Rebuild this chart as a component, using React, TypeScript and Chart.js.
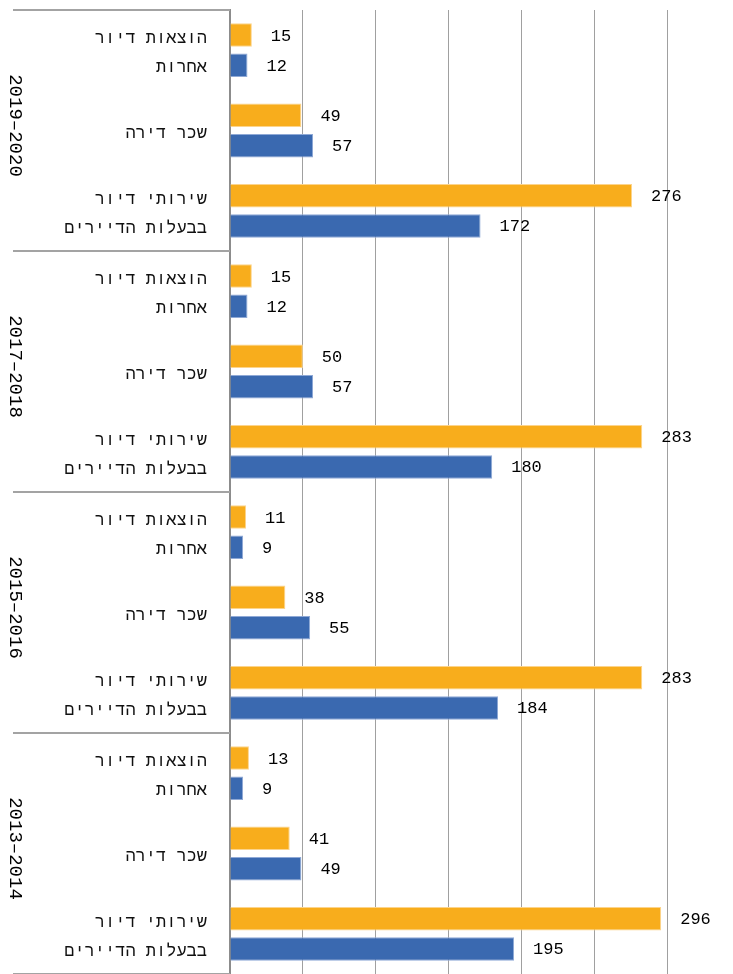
import React, { useEffect, useRef } from "react";
import { Chart, registerables } from "chart.js";

Chart.register(...registerables);

const periods = ["2019–2020", "2017–2018", "2015–2016", "2013–2014"];
const categoryLabels: (string | string[])[] = [
  ["הוצאות דיור", "אחרות"],
  "שכר דירה",
  ["שירותי דיור", "בבעלות הדיירים"],
];
// top-to-bottom, per period: [other housing costs, rent, owner housing services]
const orange2019 = [15, 49, 276];
const orange2017 = [15, 50, 283];
const orange2015 = [11, 38, 283];
const orange2013 = [13, 41, 296];
const blue2019 = [12, 57, 172];
const blue2017 = [12, 57, 180];
const blue2015 = [9, 55, 184];
const blue2013 = [9, 49, 195];
const xMax = 300;
const xStep = 50;

const orangeValues = [...orange2019, ...orange2017, ...orange2015, ...orange2013];
const blueValues = [...blue2019, ...blue2017, ...blue2015, ...blue2013];
const yLabels = periods.flatMap(() => categoryLabels);

const FONT = '"Liberation Mono", monospace';

const valueLabelPlugin = {
  id: "valueLabels",
  afterDatasetsDraw(chart: any) {
    const ctx = chart.ctx;
    ctx.save();
    ctx.font = `17px ${FONT}`;
    ctx.fillStyle = "#000";
    ctx.textAlign = "left";
    ctx.textBaseline = "middle";
    chart.data.datasets.forEach((ds: any, i: number) => {
      const meta = chart.getDatasetMeta(i);
      meta.data.forEach((bar: any, j: number) => {
        ctx.fillText(String(ds.data[j]), bar.x + 19, bar.y + 1);
      });
    });
    ctx.restore();
  },
};

const groupPlugin = {
  id: "groups",
  afterDraw(chart: any) {
    const ctx = chart.ctx;
    const yScale = chart.scales.y;
    const left = chart.chartArea.left;
    const per = categoryLabels.length;
    ctx.save();
    ctx.strokeStyle = "#a3a3a3";
    ctx.lineWidth = 2;
    for (let g = 0; g <= periods.length; g++) {
      const y = Math.round(yScale.getPixelForValue(g * per - 0.5));
      ctx.beginPath();
      ctx.moveTo(13, y);
      ctx.lineTo(left, y);
      ctx.stroke();
    }
    ctx.font = `19px ${FONT}`;
    ctx.fillStyle = "#000";
    ctx.textAlign = "center";
    ctx.textBaseline = "middle";
    periods.forEach((p, g) => {
      const yc = yScale.getPixelForValue(g * per + (per - 1) / 2) - 5;
      ctx.save();
      ctx.translate(15, yc);
      ctx.rotate(Math.PI / 2);
      ctx.fillText(p, 0, 0);
      ctx.restore();
    });
    ctx.restore();
  },
};

export default function App() {
  const ref = useRef<HTMLCanvasElement>(null);
  useEffect(() => {
    if (!ref.current) return;
    const chart = new Chart(ref.current, {
      type: "bar",
      data: {
        labels: yLabels,
        datasets: [
          {
            data: orangeValues,
            backgroundColor: "#F8AD1C",
            borderColor: "#FCD48C",
            borderWidth: 1,
            categoryPercentage: 0.754,
            barPercentage: 0.776,
          },
          {
            data: blueValues,
            backgroundColor: "#3A69B0",
            borderColor: "#8FA9D6",
            borderWidth: 1,
            categoryPercentage: 0.754,
            barPercentage: 0.776,
          },
        ],
      },
      options: {
        indexAxis: "y",
        responsive: false,
        animation: false,
        layout: { padding: { top: 10, right: 66, bottom: 0, left: 0 } },
        plugins: { legend: { display: false }, tooltip: { enabled: false } },
        scales: {
          x: {
            min: 0,
            max: xMax,
            ticks: { display: false, stepSize: xStep },
            grid: { color: "#a0a0a0", lineWidth: 1, drawTicks: false },
            border: { display: false },
            afterFit(scale: any) {
              scale.height = 0;
              scale.paddingLeft = 0;
              scale.paddingRight = 0;
            },
          },
          y: {
            type: "category",
            grid: { display: false },
            border: { display: true, color: "#8c8c8c", width: 2 },
            ticks: {
              color: "#111",
              padding: 15,
              labelOffset: 3,
              autoSkip: false,
              font: { family: FONT, size: 17, lineHeight: 1.72 },
            },
            afterFit(scale: any) {
              scale.width = 230;
              scale.paddingTop = 0;
              scale.paddingBottom = 0;
            },
          },
        },
      },
      plugins: [valueLabelPlugin, groupPlugin],
    });
    return () => chart.destroy();
  }, []);
  return (
    <div style={{ position: "absolute", left: 0, top: 0, width: 733, height: 974, background: "#fff" }}>
      <canvas ref={ref} width={733} height={974} />
    </div>
  );
}
